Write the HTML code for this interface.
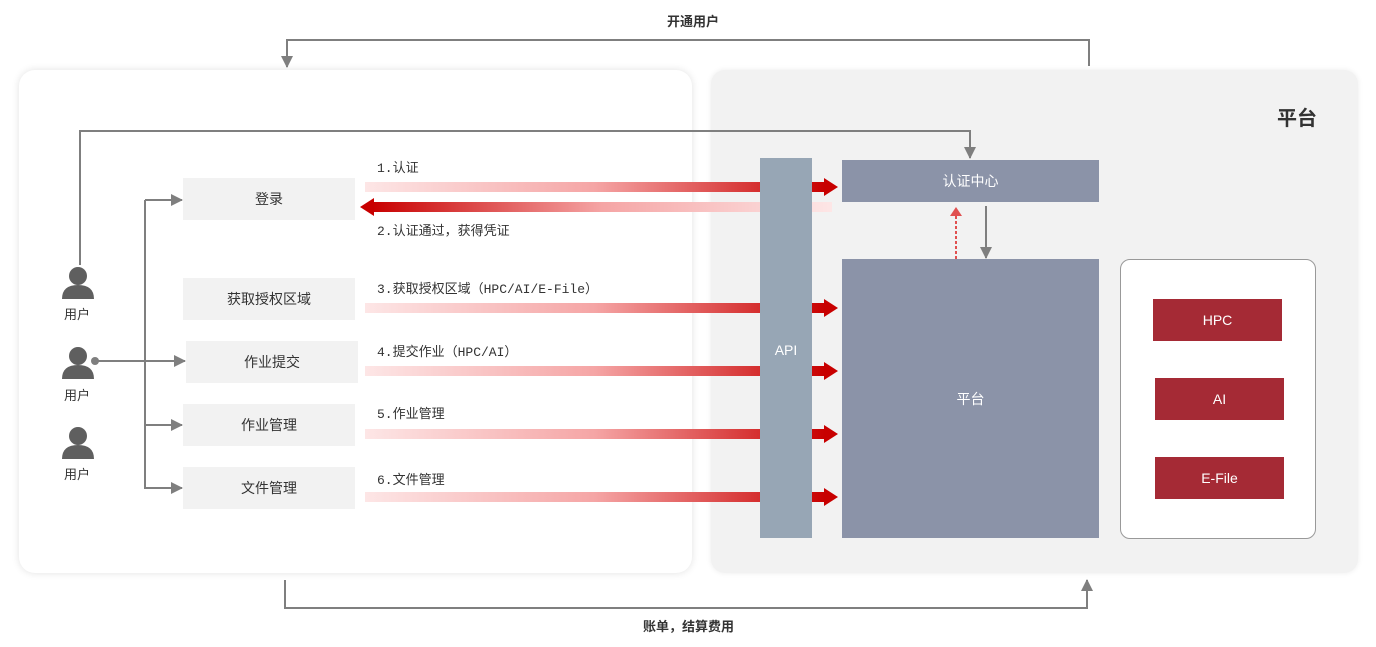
<!DOCTYPE html>
<html><head><meta charset="utf-8"><style>
body{margin:0;width:1376px;height:647px;background:#fff;position:relative;overflow:hidden;font-family:"Liberation Sans","Noto Sans CJK SC",sans-serif}
.a{position:absolute}
.box{position:absolute;background:#f2f2f2;color:#333;font-size:14px;display:flex;align-items:center;justify-content:center}
.dk{position:absolute;color:#fff;font-size:14px;display:flex;align-items:center;justify-content:center}
.lbl{position:absolute;font-family:"Liberation Mono","Noto Sans CJK SC",monospace;font-size:13px;color:#333}
.u{position:absolute;font-size:13px;color:#333}
</style></head><body>
<div class="a" style="left:19px;top:70px;width:673px;height:503px;background:#fff;border-radius:16px;box-shadow:0 0 8px rgba(0,0,0,0.12)"></div>
<div class="a" style="left:711px;top:70px;width:647px;height:503px;background:#f2f2f2;border-radius:14px;box-shadow:0 0 6px rgba(0,0,0,0.08)"></div>
<div class="a" style="left:1277px;top:102px;font-size:20px;font-weight:bold;color:#333">平台</div>
<div class="a" style="left:667px;top:11px;font-size:13px;font-weight:bold;color:#333">开通用户</div>
<div class="a" style="left:643px;top:616px;font-size:13px;font-weight:bold;color:#333">账单，结算费用</div>

<div class="box" style="left:183px;top:178px;width:172px;height:42px">登录</div>
<div class="box" style="left:183px;top:278px;width:172px;height:42px">获取授权区域</div>
<div class="box" style="left:186px;top:341px;width:172px;height:42px">作业提交</div>
<div class="box" style="left:183px;top:404px;width:172px;height:42px">作业管理</div>
<div class="box" style="left:183px;top:467px;width:172px;height:42px">文件管理</div>

<div class="dk" style="left:760px;top:158px;width:52px;height:380px;background:#97a6b5">API</div>
<div class="dk" style="left:842px;top:160px;width:257px;height:42px;background:#8b93a8">认证中心</div>
<div class="dk" style="left:842px;top:259px;width:257px;height:279px;background:#8b93a8">平台</div>
<div class="a" style="left:1120px;top:259px;width:194px;height:278px;background:#fff;border:1px solid #999;border-radius:10px"></div>
<div class="dk" style="left:1153px;top:299px;width:129px;height:42px;background:#a52a35">HPC</div>
<div class="dk" style="left:1155px;top:378px;width:129px;height:42px;background:#a52a35">AI</div>
<div class="dk" style="left:1155px;top:457px;width:129px;height:42px;background:#a52a35">E-File</div>

<div class="lbl" style="left:377px;top:157px">1.认证</div>
<div class="lbl" style="left:377px;top:220px">2.认证通过，获得凭证</div>
<div class="lbl" style="left:377px;top:278px">3.获取授权区域（HPC/AI/E-File）</div>
<div class="lbl" style="left:377px;top:341px">4.提交作业（HPC/AI）</div>
<div class="lbl" style="left:377px;top:403px">5.作业管理</div>
<div class="lbl" style="left:377px;top:469px">6.文件管理</div>

<div class="u" style="left:64px;top:304px">用户</div>
<div class="u" style="left:64px;top:385px">用户</div>
<div class="u" style="left:64px;top:464px">用户</div>

<svg class="a" style="left:0;top:0" width="1376" height="647">
<defs>
<linearGradient id="g" x1="0" x2="1"><stop offset="0" stop-color="#fde6e6"/><stop offset="0.5" stop-color="#f5a5a5"/><stop offset="1" stop-color="#c80000"/></linearGradient>
<linearGradient id="g2" x1="0" x2="1"><stop offset="0" stop-color="#c80000"/><stop offset="0.5" stop-color="#f5a5a5"/><stop offset="1" stop-color="#fde6e6"/></linearGradient>
<marker id="m" markerWidth="12" markerHeight="12" refX="11" refY="6" orient="auto" markerUnits="userSpaceOnUse"><path d="M0,0 L12,6 L0,12Z" fill="#7f7f7f"/></marker>
</defs>
<g fill="#5f5f5f">
<circle cx="78" cy="276" r="9"/><path d="M62,299 Q62,285 78,285 Q94,285 94,299Z"/>
<circle cx="78" cy="356" r="9"/><path d="M62,379 Q62,365 78,365 Q94,365 94,379Z"/>
<circle cx="78" cy="436" r="9"/><path d="M62,459 Q62,445 78,445 Q94,445 94,459Z"/>
</g>
<g stroke="#7f7f7f" stroke-width="2" fill="none">
<path d="M1089,66 V40 H287 V67" marker-end="url(#m)"/>
<path d="M285,580 V608 H1087 V580" marker-end="url(#m)"/>
<path d="M80,265 V131 H970 V158" marker-end="url(#m)"/>
<path d="M145,200 V488 H182" marker-end="url(#m)"/>
<path d="M145,200 H182" marker-end="url(#m)"/>
<path d="M145,425 H182" marker-end="url(#m)"/>
<path d="M95,361 H185" marker-end="url(#m)"/>
<path d="M986,206 V258" marker-end="url(#m)"/>
</g>
<circle cx="95" cy="361" r="4" fill="#7f7f7f"/>
<path d="M956,259 V216" stroke="#e05050" stroke-width="2" stroke-dasharray="3,2"/>
<path d="M950,216 L956,207 L962,216Z" fill="#e05050"/>
<rect x="365" y="182" width="460" height="10" fill="url(#g)"/>
<path d="M824,178 L838,187 L824,196Z" fill="#c80000"/>
<rect x="372" y="202" width="460" height="10" fill="url(#g2)"/>
<path d="M374,198 L360,207 L374,216Z" fill="#c80000"/>
<g>
<rect x="365" y="303" width="460" height="10" fill="url(#g)"/><path d="M824,299 L838,308 L824,317Z" fill="#c80000"/>
<rect x="365" y="366" width="460" height="10" fill="url(#g)"/><path d="M824,362 L838,371 L824,380Z" fill="#c80000"/>
<rect x="365" y="429" width="460" height="10" fill="url(#g)"/><path d="M824,425 L838,434 L824,443Z" fill="#c80000"/>
<rect x="365" y="492" width="460" height="10" fill="url(#g)"/><path d="M824,488 L838,497 L824,506Z" fill="#c80000"/>
</g>
<rect x="760" y="158" width="52" height="380" fill="#97a6b5"/>
<text x="786" y="355" fill="#fff" font-size="14" text-anchor="middle" font-family="Liberation Sans, sans-serif">API</text>
</svg>
</body></html>
